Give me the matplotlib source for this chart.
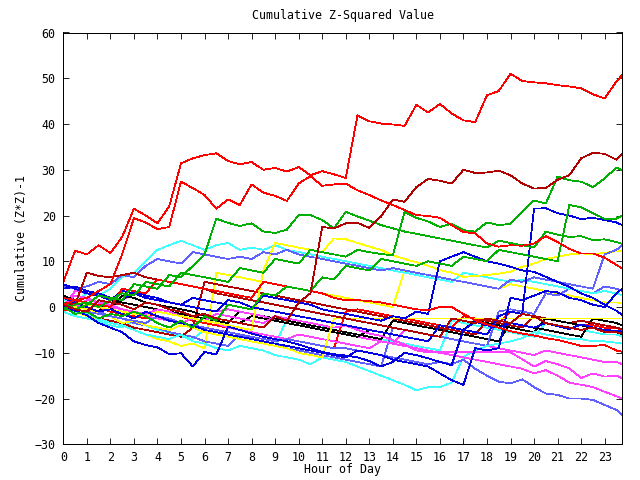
import numpy as np
import matplotlib
matplotlib.use("Agg")
import matplotlib.pyplot as plt

# half-hour sample grid plus the final quarter hour
hours = [i * 0.5 for i in range(48)] + [23.75]

red_a = [5.5, 12.3, 11.5, 13.5, 11.8, 15.3, 21.5, 20.0, 18.3, 22.0, 31.4, 32.5, 33.2, 33.6, 31.9, 31.2, 31.7, 30.0, 30.4, 29.6,
         30.6, 28.8, 29.7, 29.0, 28.2, 41.9, 40.6, 40.1, 39.9, 39.6, 44.2, 42.5, 44.4, 42.3, 40.8, 40.4, 46.3, 47.2, 51.0, 49.4,
         49.1, 48.9, 48.5, 48.2, 47.8, 46.5, 45.6, 49.3, 50.7]
red_b = [0.5, 1.5, 2.0, 3.5, 5.0, 11.5, 19.4, 18.5, 17.0, 17.5, 27.4, 26.0, 24.5, 21.5, 23.5, 22.3, 26.8, 25.0, 24.3, 23.2,
         27.0, 28.6, 26.5, 26.8, 27.0, 25.5, 24.5, 23.3, 22.3, 21.2, 20.1, 19.9, 19.5, 17.9, 16.4, 16.1, 13.9, 13.2, 13.5, 13.4,
         13.9, 15.5, 14.2, 12.7, 11.7, 11.7, 10.8, 9.2, 8.4]
red_c = [2.0, 1.5, 1.0, 0.5, 0.0, 4.0, 3.5, 3.0, 6.0, 5.5, 5.0, 4.5, 4.0, 3.5, 3.0, 2.5, 2.0, 5.5, 5.0, 4.5,
         4.0, 3.5, 3.0, 2.0, 1.5, 1.5, 1.3, 1.0, 0.5, 0.0, -0.5, -0.7, 0.0, 0.0, -1.5, -2.9, -3.8, -4.5, -5.3, -5.8,
         -6.2, -6.8, -7.2, -7.8, -8.5, -8.5, -8.3, -9.5, -9.8]
red_d = [-0.5, -1.0, 0.5, 0.0, -1.0, -1.5, -2.0, -2.5, -1.0, -1.5, -2.0, -3.0, -3.5, -4.0, -4.5, -5.0, -5.5, -6.0, -6.5, -7.0,
         -7.5, -8.0, -8.5, -9.0, -1.0, -0.5, -1.0, -1.5, -2.0, -2.5, -3.0, -3.5, -4.0, -4.5, -2.0, -2.5, -3.0, -3.5, -1.0, -1.5,
         -2.0, -2.5, -3.0, -3.5, -4.0, -4.0, -4.5, -4.5, -5.0]
dkred_a = [0.5, -0.5, -1.0, 1.5, 1.0, 0.5, -0.5, 1.0, 0.5, -0.5, -1.0, -2.0, -1.5, -2.5, -3.0, -3.5, -4.0, -4.5, -2.0, -3.0,
           1.0, 3.0, 17.5, 17.2, 18.3, 18.4, 17.3, 19.8, 23.5, 23.0, 26.2, 28.0, 27.6, 27.0, 30.0, 29.3, 29.4, 29.8, 28.8, 27.0,
           25.9, 26.0, 27.8, 28.8, 32.5, 33.7, 33.5, 32.2, 33.6]
dkred_b = [1.0, 0.5, 7.5, 6.8, 6.5, 7.0, 7.5, 6.5, 6.0, 5.5, 5.0, 4.5, 4.0, 3.0, 2.5, 2.0, 1.5, 1.0, 0.5, 0.0,
           -0.5, -1.0, -1.5, -2.0, -2.5, -3.0, -3.5, -4.0, -4.5, -5.0, -5.5, -6.0, -6.5, -2.5, -3.0, -3.5, -2.5, -3.0, -3.5, -1.5,
           -2.0, -3.5, -4.0, -4.5, -5.0, -4.5, -5.5, -5.5, -5.8]
dkred_c = [0.0, -1.0, -1.5, -2.5, -3.0, -3.5, -4.5, -5.0, -5.5, -6.0, -6.5, -4.5, 5.5, 5.0, 4.5, 4.0, 3.5, 3.0, 2.5, 2.0,
           1.5, 1.0, 0.5, 0.0, -0.5, -1.0, -1.5, -2.0, -2.5, -3.0, -3.5, -4.0, -4.5, -5.0, -5.5, -6.0, -3.0, -3.5, -4.0, -4.5,
           -2.0, -2.5, -3.0, -3.5, -3.0, -3.5, -4.0, -4.5, -4.8]
green_a = [-0.5, 0.5, 1.0, 0.0, 1.5, 3.0, 2.5, 5.5, 5.0, 4.5, 7.5, 7.0, 6.5, 6.0, 5.5, 8.5, 8.0, 7.5, 10.5, 10.0,
           9.5, 12.5, 12.0, 11.5, 11.0, 12.5, 12.0, 11.6, 11.3, 20.8, 19.5, 18.7, 17.5, 18.2, 16.8, 16.5, 18.5, 17.9, 18.2, 20.8,
           23.3, 22.6, 28.5, 27.7, 27.4, 26.2, 28.1, 30.5, 29.9]
green_b = [1.0, -0.5, 0.5, 2.5, 2.0, 1.5, 5.0, 4.5, 4.0, 7.0, 6.5, 9.0, 11.5, 19.3, 18.4, 17.7, 18.3, 16.5, 16.2, 16.9,
           20.1, 20.1, 19.0, 17.2, 20.8, 19.8, 18.9, 17.9, 17.2, 16.5, 16.0, 15.5, 15.0, 14.5, 14.0, 13.5, 13.0, 14.5, 14.0, 13.5,
           13.0, 16.5, 15.8, 15.3, 15.5, 14.6, 14.8, 14.2, 13.8]
green_c = [0.0, -1.5, -1.0, -2.5, -1.5, -2.0, -1.0, -2.0, -3.5, -4.5, -3.0, -4.5, -2.0, -3.0, 0.5, 0.0, -0.5, 3.0, 2.5, 4.5,
           4.0, 3.5, 6.5, 6.0, 9.0, 8.5, 8.0, 10.5, 10.0, 9.5, 9.0, 10.0, 9.5, 9.0, 11.0, 10.5, 10.0, 12.5, 12.0, 11.5,
           11.0, 10.5, 10.0, 22.3, 21.8, 20.5, 19.3, 19.3, 20.0]
blue_a = [4.0, 4.5, 3.5, 3.0, 2.0, 1.5, 3.5, 2.5, 2.0, 1.0, 0.5, 0.0, -0.5, -1.0, 1.5, 1.0, 0.0, -0.5, -1.0, -1.5,
          -2.0, -2.5, -3.0, -3.5, -4.0, -4.5, -5.0, -5.5, -6.0, -6.5, -7.0, -7.5, -4.0, -4.5, -5.0, -5.5, -6.0, -2.0, -1.0, -1.5,
          21.5, 21.6, 20.5, 20.0, 19.2, 19.5, 19.0, 18.5, 17.9]
blue_b = [5.0, 4.0, 3.0, 2.5, 1.5, 3.5, 3.0, 2.0, 1.5, 1.0, 0.5, 2.0, 1.5, 1.0, 0.5, 0.0, -0.5, 2.5, 2.0, 1.5,
          1.0, 0.5, -0.5, -1.0, -1.5, -2.0, -2.5, -3.0, -2.0, -2.5, -1.0, -1.5, 10.0, 11.0, 12.0, 11.0, 10.0, 9.5, 8.8, 8.0,
          7.7, 6.6, 5.5, 4.4, 3.0, 2.0, 0.5, -0.8, -1.8]
blue_c = [0.0, -0.8, -1.8, -3.5, -4.5, -5.5, -7.5, -8.3, -8.8, -10.3, -10.1, -13.0, -9.8, -10.4, -4.3, -5.0, -5.8, -6.5, -7.0, -7.5,
          -8.2, -9.0, -9.8, -10.3, -10.6, -11.0, -11.8, -13.0, -12.0, -10.0, -10.5, -11.2, -12.0, -12.7, -5.0, -3.2, -4.0, -4.5, -3.5, -4.0,
          -4.5, -3.5, -4.2, -4.8, -3.8, -4.5, -5.0, -5.2, -5.4]
blue_d = [2.0, 1.0, 0.0, -1.0, -0.5, -1.5, -2.5, -1.0, -2.0, -3.0, -3.5, -4.0, -5.0, -5.5, -6.0, -6.5, -7.0, -7.5, -8.0, -8.5,
          -9.0, -9.5, -10.0, -10.5, -11.0, -9.5, -10.0, -10.5, -11.5, -12.0, -12.5, -13.0, -14.5, -16.0, -17.0, -9.0, -9.5, -9.0, 2.0, 1.5,
          2.5, 3.5, 3.2, 2.0, 1.5, 0.5, 0.0, 3.0, 4.0]
ltblue_a = [0.5, -0.5, -1.0, -1.5, -2.0, -2.5, -3.0, -3.5, -2.0, -2.5, -3.5, -4.0, -4.5, -5.0, -5.5, -6.0, -6.5, -7.0, -7.5, -7.0,
            -7.5, -8.0, -8.5, -9.0, -9.0, -9.5, -10.0, -10.5, -11.0, -11.5, -12.0, -12.5, -12.0, -12.5, -11.5, -13.5, -15.0, -16.3, -16.7, -15.8,
            -17.5, -18.9, -19.2, -20.0, -20.0, -20.3, -21.4, -22.5, -23.6]
ltblue_b = [4.5, 4.0, 4.5, 5.5, 5.0, 7.0, 6.5, 9.0, 10.5, 10.0, 9.5, 12.0, 11.5, 11.0, 10.5, 11.0, 10.5, 12.0, 11.5, 12.5,
            11.5, 11.0, 10.5, 10.0, 9.5, 9.0, 8.5, 8.0, 8.5, 8.0, 7.5, 7.0, 6.5, 6.0, 5.5, 5.0, 4.5, 4.0, 6.0, 5.5,
            6.5, 6.0, 5.5, 5.0, 4.5, 4.0, 11.5, 12.5, 13.5]
ltblue_c = [1.0, 0.5, -0.5, -1.0, -2.0, -2.5, -3.5, -4.0, -4.5, -5.5, -6.0, -6.5, -7.5, -8.0, -8.5, -6.0, -7.0, -7.5, -8.0, -9.0,
            -9.5, -10.0, -10.5, -11.0, -11.5, -12.0, -12.5, -13.0, -4.5, -5.0, -5.5, -6.0, -6.5, -7.0, -7.5, -8.0, -8.5, -1.0, -0.5, -1.0,
            -1.5, 3.0, 2.5, 4.0, 3.5, 3.0, 4.5, 4.0, 3.5]
cyan_a = [0.0, -1.0, -1.5, -2.5, -3.5, -4.0, -5.0, -6.0, -6.5, -7.0, -6.0, -7.5, -8.0, -9.0, -9.5, -8.5, -9.0, -9.5, -10.5, -11.0,
          -11.5, -12.5, -11.0, -11.5, -12.0, -13.0, -14.0, -15.0, -16.0, -17.0, -18.2, -17.5, -17.5, -16.5, -10.9, -9.5, -8.5, -8.0, -7.5, -6.8,
          -5.5, -6.0, -6.5, -7.0, -7.0, -7.5, -7.5, -7.8, -8.0]
cyan_b = [1.5, 1.0, 3.0, 2.5, 4.0, 6.5, 7.5, 10.0, 12.5, 13.5, 14.5, 13.5, 12.5, 13.5, 14.0, 12.5, 13.0, 12.5, 13.5, 12.5,
          12.0, 11.5, 11.0, 10.5, 10.0, 9.5, 9.0, 8.5, 8.0, 7.5, 7.0, 6.5, 6.0, 5.5, 7.5, 7.0, 6.5, 6.0, 5.5, 6.0,
          5.5, 5.0, 4.5, 4.0, 3.5, 3.0, 3.5, 3.0, 2.6]
cyan_c = [-1.0, -2.0, -2.5, -3.0, -4.0, -4.5, -3.0, -4.0, -5.0, -5.5, -6.5, -7.0, -5.0, -5.5, -6.0, -7.0, -7.5, -8.0, -8.5, -2.5,
          -3.0, -3.5, -4.0, -5.0, -5.5, -6.0, -6.5, -7.0, -7.5, -8.0, -8.5, -9.0, -9.5, -3.0, -3.5, -4.0, -4.5, -5.0, -5.5, -6.0,
          -6.5, -3.5, -4.0, -4.5, -5.0, -5.5, -6.0, -6.0, -6.5]
magenta_a = [1.0, 0.0, 1.5, 1.0, 0.0, -0.5, -1.0, -1.5, -0.5, -1.0, -2.0, -2.5, -3.0, -1.5, -2.0, -2.5, -3.0, -3.5, -2.0, -2.5,
             -3.0, -3.5, -4.0, -4.5, -4.0, -5.0, -5.8, -6.3, -7.2, -8.2, -9.5, -9.9, -9.9, -9.9, -9.9, -9.9, -9.9, -9.9, -9.9, -11.4,
             -13.0, -11.8, -12.5, -13.4, -15.5, -14.5, -15.2, -15.0, -15.6]
magenta_b = [0.5, 2.5, 2.0, 1.0, 0.5, -0.5, -1.0, -2.0, -2.5, -3.0, -3.5, -2.5, -3.0, -3.5, -4.5, -5.0, -5.5, -6.0, -6.5, -7.0,
             -6.0, -6.5, -7.0, -7.5, -8.0, -8.5, -9.0, -7.5, -8.0, -8.5, -9.0, -9.5, -10.0, -10.5, -11.0, -11.5, -12.0, -12.5, -13.0, -13.5,
             -14.5, -13.8, -15.0, -16.5, -17.0, -17.5, -18.5, -19.5, -20.0]
magenta_c = [0.0, 3.5, 3.0, 2.5, 2.0, 1.5, 3.0, 2.0, 1.5, 1.0, 0.5, 0.0, -0.5, -1.0, -0.5, -1.0, -1.5, -2.0, -3.0, -3.5,
             -4.0, -4.5, -5.0, -5.5, -6.0, -6.5, -7.0, -7.5, -8.0, -5.0, -5.5, -6.0, -6.5, -7.0, -7.5, -8.0, -8.5, -9.0, -9.5, -10.0,
             -10.5, -9.5, -10.0, -10.5, -11.0, -11.5, -12.0, -12.0, -12.5]
yellow_a = [0.5, 0.0, -0.5, -1.5, -2.0, -3.5, -3.0, -4.0, -4.5, -5.0, -4.0, -4.5, -5.5, -6.0, -6.5, -7.0, -7.5, -8.0, -8.5, -9.0,
            -10.0, -10.5, -11.0, -2.5, -2.5, -2.5, -2.5, -2.5, -2.5, -2.5, -2.5, -2.5, -2.5, -2.5, -2.5, -2.5, -2.5, -2.5, -2.5, -2.5,
            -2.5, -2.5, -2.5, -2.5, -2.5, -2.5, -2.5, -2.5, -2.5]
yellow_b = [-0.5, 1.0, 0.5, 0.0, -0.5, -1.0, -1.5, -2.0, -1.0, -1.5, -2.0, -2.5, -3.0, -3.5, -4.0, -4.5, -5.0, 8.0, 14.0, 13.5,
            13.0, 12.5, 12.0, 15.0, 14.8, 14.0, 13.2, 12.5, 11.3, 10.5, 9.8, 9.0, 8.1, 7.5, 6.6, 6.8, 7.0, 7.3, 7.7, 8.8,
            9.5, 10.5, 11.0, 11.5, 11.7, 11.6, 11.8, 12.2, 12.4]
yellow_c = [0.0, -1.0, -2.0, -2.5, -3.5, -4.0, -5.0, -6.0, -7.0, -7.5, -8.5, -8.0, -9.0, 7.5, 7.0, 6.5, 6.0, 5.5, 5.0, 4.5,
            4.0, 3.5, 3.0, 2.5, 2.0, 1.5, 1.0, 0.5, 0.0, 8.0, 7.5, 7.0, 6.5, 6.0, 5.5, 5.0, 4.5, 4.0, 5.0, 4.5,
            4.0, 3.5, 3.0, 2.5, 2.0, 1.5, 1.0, 1.0, 0.8]
black_a = [2.5, 1.5, 1.0, 0.0, -0.5, 2.5, 2.0, 1.0, 0.5, 0.0, -0.5, -1.0, -2.0, -2.5, -3.0, -3.5, -2.0, -2.5, -3.0, -3.5,
           -4.0, -4.5, -5.0, -5.5, -6.0, -6.5, -5.0, -5.5, -6.0, -6.5, -7.0, -7.5, -4.0, -4.5, -5.0, -3.0, -3.5, -4.0, -4.5, -5.0,
           -5.5, -2.5, -3.0, -3.5, -4.0, -4.5, -5.0, -5.5, -6.0]
black_b = [-0.5, 0.5, 0.0, -1.0, 1.5, 1.0, 0.5, 0.0, -0.5, -1.0, -1.5, -2.0, -2.5, -3.0, -3.5, -1.0, -1.5, -2.0, -2.5, -3.0,
           -3.5, -4.0, -4.5, -5.0, -5.5, -6.0, -6.5, -7.0, -3.0, -3.5, -4.0, -4.5, -5.0, -5.5, -6.0, -6.5, -7.0, -7.5, -3.5, -4.0,
           -4.5, -5.0, -5.5, -6.0, -6.5, -2.5, -3.0, -3.5, -4.0]

RED, GREEN, BLUE, LTBLUE = "#ff0000", "#00b000", "#0000e0", "#6060ff"
CYAN, MAGENTA, YELLOW, DKRED, BLACK = "#40ffff", "#ff40ff", "#ffff00", "#b00000", "#000000"

series = [
    (cyan_c, CYAN), (black_b, BLACK), (magenta_c, MAGENTA), (yellow_c, YELLOW), (ltblue_c, LTBLUE),
    (red_d, RED), (dkred_c, DKRED), (black_a, BLACK), (cyan_a, CYAN), (cyan_b, CYAN),
    (magenta_b, MAGENTA), (magenta_a, MAGENTA), (yellow_a, YELLOW), (yellow_b, YELLOW),
    (ltblue_a, LTBLUE), (ltblue_b, LTBLUE), (blue_d, BLUE), (blue_c, BLUE), (blue_b, BLUE), (blue_a, BLUE),
    (dkred_b, DKRED), (red_c, RED), (green_c, GREEN), (green_b, GREEN), (green_a, GREEN),
    (dkred_a, DKRED), (red_b, RED), (red_a, RED),
]

MONO = "DejaVu Sans Mono"
plt.rcParams["font.family"] = MONO

fig = plt.figure(figsize=(6.4, 4.8), dpi=100)
ax = fig.add_axes([63.3 / 640, (480 - 444.3) / 480, (622.3 - 63.3) / 640, (444.3 - 32.5) / 480])
for vals, col in series:
    ax.plot(hours, vals, color=col, lw=0.55, antialiased=False)

ax.set_xlim(0, 23.75)
ax.set_ylim(-30, 60)
ax.set_xticks(range(0, 24))
ax.set_yticks(range(-30, 61, 10))
ax.tick_params(direction="in", length=4.5, width=0.6, top=True, right=True, labelsize=8.4, pad=4.5)
ax.tick_params(axis="y", pad=5.5)
for s in ax.spines.values():
    s.set_linewidth(0.6)
    s.set_antialiased(False)

fig.text(343 / 640, 1 - 16 / 480, "Cumulative Z-Squared Value", ha="center", va="center", fontsize=8.4)
fig.text(343 / 640, 1 - 470 / 480, "Hour of Day", ha="center", va="center", fontsize=8.4)
fig.text(22 / 640, 1 - 238 / 480, "Cumulative (Z*Z)-1", ha="center", va="center", rotation=90, fontsize=8.4)

fig.savefig("out.png", dpi=100)
